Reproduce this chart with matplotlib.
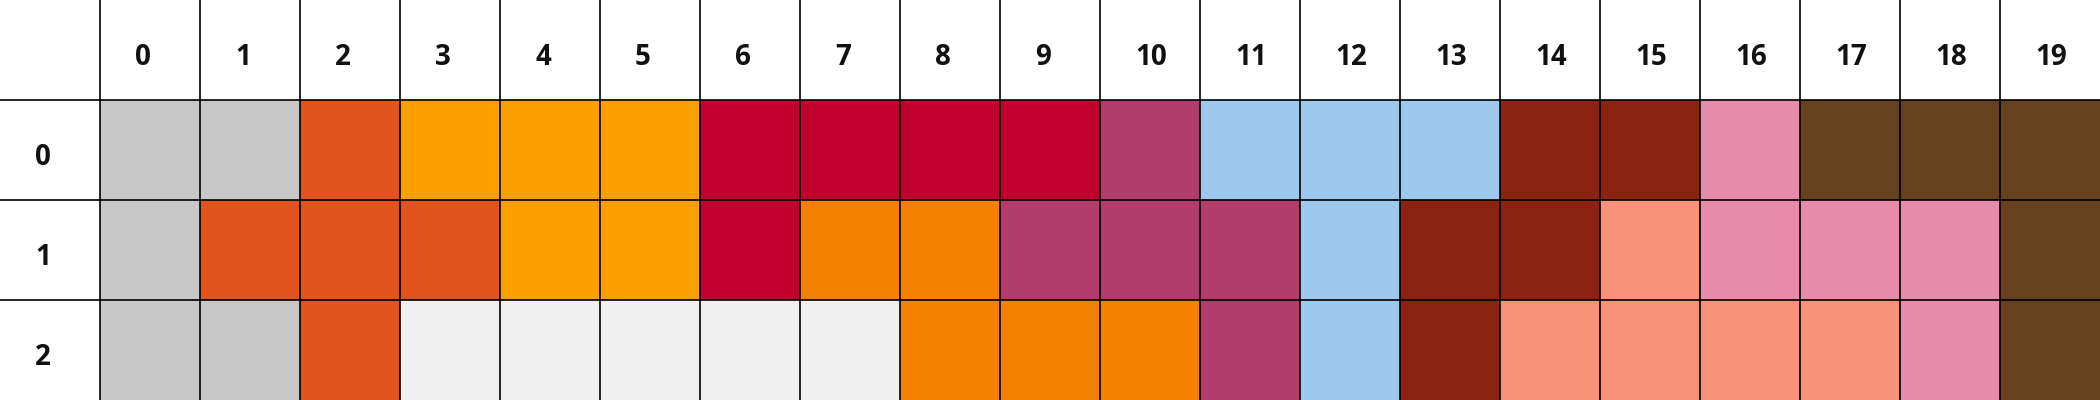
import matplotlib
matplotlib.use("Agg")
import matplotlib.pyplot as plt
from matplotlib.colors import ListedColormap
import numpy as np

# palette used by the cells (index = code in the grid below)
cores = ['#c8c8c8', '#e3531d', '#fca000', '#c0002d', '#b33d6a', '#9dc9ee',
         '#892410', '#e68ba9', '#65411e', '#f68000', '#f8917a', '#f0f0f0']

colunas = [str(i) for i in range(20)]
linhas = ['0', '1', '2']

linha0 = [0, 0, 1, 2, 2, 2, 3, 3, 3, 3, 4, 5, 5, 5, 6, 6, 7, 8, 8, 8]
linha1 = [0, 1, 1, 1, 2, 2, 3, 9, 9, 4, 4, 4, 5, 6, 6, 10, 7, 7, 7, 8]
linha2 = [0, 0, 1, 11, 11, 11, 11, 11, 9, 9, 9, 4, 5, 6, 10, 10, 10, 10, 7, 8]

grade = np.array([linha0, linha1, linha2])

fig = plt.figure(figsize=(21, 4), dpi=100)
ax = fig.add_axes([0, 0, 1, 1])
ax.set_xlim(-1, len(colunas))
ax.set_ylim(len(linhas), -1)
ax.axis('off')

cmap = ListedColormap(cores)
ax.pcolormesh(np.arange(len(colunas) + 1), np.arange(len(linhas) + 1), grade,
              cmap=cmap, vmin=-0.5, vmax=len(cores) - 0.5)

# grid lines (no outer border)
for x in range(len(colunas)):
    ax.axvline(x, color='black', linewidth=1.2)
for y in range(len(linhas)):
    ax.axhline(y, color='black', linewidth=1.2)

fonte = dict(family=['Open Sans', 'DejaVu Sans'], fontsize=20, fontweight='bold',
             color='#111111', ha='left', va='baseline')
for i, rot in enumerate(colunas):
    ax.text(i + 0.35, -1 + 0.65, rot, **fonte)
for j, rot in enumerate(linhas):
    ax.text(-1 + 0.35, j + 0.65, rot, **fonte)

fig.savefig('out.png', dpi=100)
